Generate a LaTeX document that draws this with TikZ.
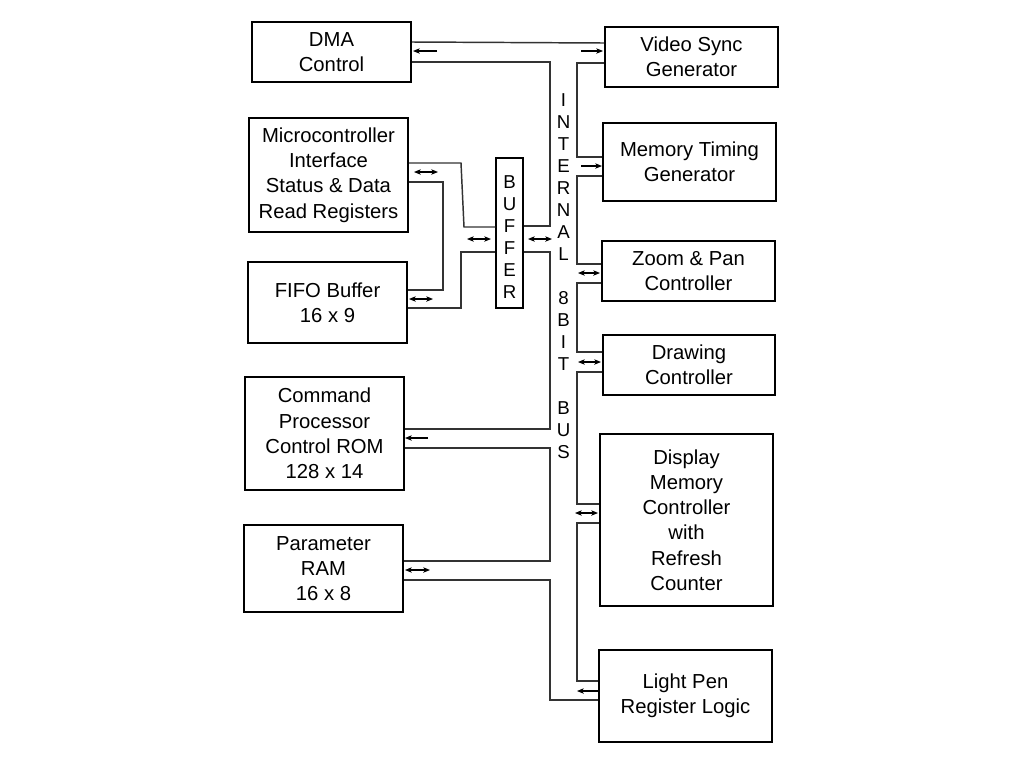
\documentclass[tikz,border=0pt]{standalone}
\usepackage{fontspec}
\setmainfont{Liberation Sans}
\usetikzlibrary{arrows.meta}
\begin{document}
\begin{tikzpicture}[x=0.75pt,y=-0.75pt,
  blk/.style={draw=black, line width=1.5pt, inner sep=0pt, align=center,
    font=\fontsize{15.2pt}{18.9pt}\selectfont},
  bufbox/.style={draw=black, line width=1pt, inner sep=0pt},
  conn/.style={draw=black!80, line width=1.1pt},
  tip/.style={Stealth[length=5pt,width=4pt,inset=1.2pt]},
  arr/.style={draw=black, line width=0.8pt, -{Stealth[length=5pt,width=4pt,inset=1.2pt]}},
  darr/.style={draw=black, line width=0.8pt, {Stealth[length=5pt,width=4pt,inset=1.2pt]}-{Stealth[length=5pt,width=4pt,inset=1.2pt]}},
  bustext/.style={inner sep=0pt, align=center, font=\fontsize{14pt}{16.5pt}\selectfont}]
\useasboundingbox (0,0) rectangle (1024,768);

% blocks
\node[blk, minimum width=119.25pt, minimum height=45pt] (dma) at (331.5,52) {DMA\\Control};
\node[blk, minimum width=129.75pt, minimum height=45pt] (vsync) at (691.5,57) {Video Sync\\Generator};
\node[blk, minimum width=119.25pt, minimum height=85.5pt] (micro) at (328.5,175) {Microcontroller\\Interface\\Status \& Data\\Read Registers};
\node[blk, minimum width=119.25pt, minimum height=60.75pt] (fifo) at (327.5,302.5) {FIFO Buffer\\16 x 9};
\node[bufbox, minimum width=20.25pt, minimum height=112.5pt] (buf) at (509.5,233) {};
\node[bustext] (buftext) at (509.5,237) {B\\U\\F\\F\\E\\R};
\node[blk, minimum width=129.75pt, minimum height=58.5pt] (mtg) at (689.5,162) {Memory Timing\\Generator};
\node[blk, minimum width=129.75pt, minimum height=45pt] (zoom) at (688.5,271) {Zoom \& Pan\\Controller};
\node[blk, minimum width=129pt, minimum height=45pt] (drawc) at (689,365) {Drawing\\Controller};
\node[blk, minimum width=119.25pt, minimum height=84.75pt] (cmd) at (324.5,433.5) {Command\\Processor\\Control ROM\\128 x 14};
\node[blk, minimum width=119.25pt, minimum height=65.25pt] (param) at (323.5,568.5) {Parameter\\RAM\\16 x 8};
\node[blk, minimum width=129.75pt, minimum height=129pt] (disp) at (686.5,520) {Display\\Memory\\Controller\\with\\Refresh\\Counter};
\node[blk, minimum width=129.75pt, minimum height=69pt] (lpen) at (685.5,696) {Light Pen\\Register Logic};

% bus label
\node[bustext] (bus) at (563.5,276) {I\\N\\T\\E\\R\\N\\A\\L\\[16.5pt]8\\B\\I\\T\\[16.5pt]B\\U\\S};

% left bus rail (x=550)
\draw[conn] (dma.east |- 0,42) -- (vsync.west |- 0,43);
\draw[conn] (dma.east |- 0,62) -| (550,226) -- (buf.east |- 0,226);
\draw[conn] (buf.east |- 0,252) -| (550,429) -- (cmd.east |- 0,429);
\draw[conn] (cmd.east |- 0,448) -| (550,561) -- (param.east |- 0,561);
\draw[conn] (param.east |- 0,580) -| (550,700) -- (lpen.west |- 0,700);

% right bus rail (x=577)
\draw[conn] (vsync.west |- 0,63) -| (577,157) -- (mtg.west |- 0,157);
\draw[conn] (mtg.west |- 0,176) -| (577,264) -- (zoom.west |- 0,264);
\draw[conn] (zoom.west |- 0,283) -| (577,352) -- (drawc.west |- 0,352);
\draw[conn] (drawc.west |- 0,372) -| (577,504) -- (disp.west |- 0,504);
\draw[conn] (disp.west |- 0,523) -| (577,681) -- (lpen.west |- 0,681);

% micro / fifo to buffer
\draw[conn] (micro.east |- 0,163) -- (461,163) -- (464,227) -- (buf.west |- 0,227);
\draw[conn] (micro.east |- 0,182) -| (443,290) -- (fifo.east |- 0,290);
\draw[conn] (fifo.east |- 0,308) -| (461,252) -- (buf.west |- 0,252);

% direction arrows
\draw[arr] (437,51) -- (413,51);
\draw[arr] (581,51) -- (603,51);
\draw[arr] (581,166) -- (602,166);
\draw[darr] (578,273) -- (600,273);
\draw[darr] (578,362) -- (601,362);
\draw[darr] (575,513) -- (598,513);
\draw[arr] (599,691) -- (577,691);
\draw[arr] (428,438) -- (405,438);
\draw[darr] (405,570) -- (430,570);
\draw[darr] (414,172) -- (438,172);
\draw[darr] (409,299) -- (433,299);
\draw[darr] (467,239) -- (491,239);
\draw[darr] (528,239) -- (552,239);
\end{tikzpicture}
\end{document}
